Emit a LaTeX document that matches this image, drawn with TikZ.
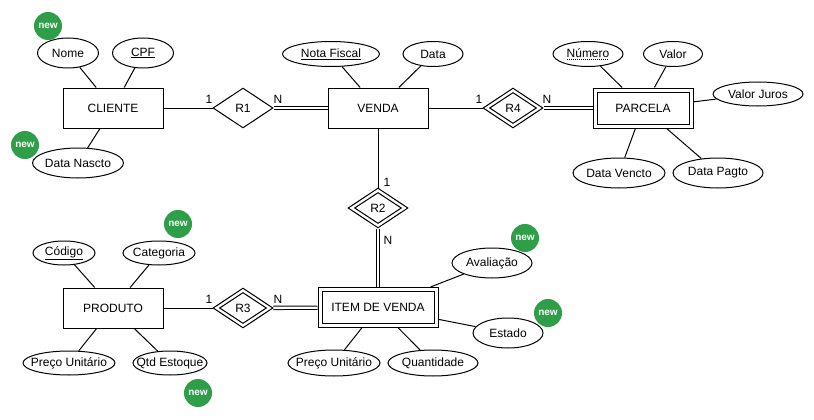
\documentclass[tikz,border=0pt]{standalone}
\usepackage{fontspec}
\setmainfont{Liberation Sans}
\usepackage{xcolor}
\usepackage{tikz}
\usetikzlibrary{shapes.geometric}

\definecolor{newgreen}{RGB}{46,158,72}
\newcommand\dotunder[1]{\setbox0=\hbox{#1}\leavevmode\rlap{\lower2.5pt\hbox to\wd0{\leaders\hbox to 2pt{\hss\vrule width 1pt height 0.7pt\hss}\hfill}}\box0}

\begin{document}
\begin{tikzpicture}[x=1pt,y=-1pt,line width=1pt,
		font=\fontsize{12}{14}\selectfont,
		ent/.style={draw,rectangle,inner sep=0pt,minimum width=100pt,minimum height=40pt},
		weak/.style={ent,path picture={\draw ([shift={(4pt,4pt)}]path picture bounding box.south west) rectangle ([shift={(-4pt,-4pt)}]path picture bounding box.north east);}},
		rel/.style={draw,diamond,inner sep=0pt,minimum width=60pt,minimum height=40pt},
		idrel/.style={rel,path picture={\draw ([yshift=-4.5pt]path picture bounding box.north) -- ([xshift=-6.5pt]path picture bounding box.east) -- ([yshift=4.5pt]path picture bounding box.south) -- ([xshift=6.5pt]path picture bounding box.west) -- cycle;}},
		attr/.style={draw,ellipse,inner sep=0pt,minimum height=25pt,
			execute at begin node={\hbox to 0pt\bgroup\hss},execute at end node={\hss\egroup}},
		badge/.style={circle,fill=newgreen,text=white,inner sep=0pt,minimum size=28pt,font=\fontsize{10}{10}\selectfont\bfseries},
		dbl/.style={double,double distance=2.3pt}]
		\useasboundingbox (0,0) rectangle (814,420);

		\node[ent] (cliente) at (113,108) {CLIENTE};
		\node[ent] (venda) at (378,108) {VENDA};
		\node[weak] (parcela) at (643,108) {PARCELA};
		\node[ent] (produto) at (113,308) {PRODUTO};
		\node[weak,minimum width=120pt] (item) at (378,307.5) {ITEM DE VENDA};

		\node[rel] (r1) at (243,108) {R1};
		\node[idrel] (r4) at (513,108) {R4};
		\node[idrel] (r2) at (378,208) {R2};
		\node[idrel] (r3) at (243,308) {R3};

		\node[attr,minimum width=61pt,minimum height=30pt] (nome) at (68,53) {Nome};
		\node[attr,minimum width=61pt,minimum height=30pt] (cpf) at (143,53) {\underline{CPF}};
		\node[attr,minimum width=91pt,minimum height=30pt] (nascto) at (78,163) {Data Nascto};
		\node[attr,minimum width=97pt] (nota) at (331,54) {\underline{Nota Fiscal}};
		\node[attr,minimum width=60pt] (data) at (433,54) {Data};
		\node[attr,minimum width=70pt] (numero) at (588,54) {\dotunder{Número}};
		\node[attr,minimum width=59pt] (valor) at (673,54) {Valor};
		\node[attr,minimum width=90pt,minimum height=24pt] (juros) at (758,94) {Valor Juros};
		\node[attr,minimum width=92pt,minimum height=30pt] (vencto) at (619,173) {Data Vencto};
		\node[attr,minimum width=90pt,minimum height=30pt] (pagto) at (718,173) {Data Pagto};
		\node[attr,minimum width=80pt,minimum height=30pt] (aval) at (492,263) {Avaliação};
		\node[attr,minimum width=70pt,minimum height=30pt] (estado) at (508,333) {Estado};
		\node[attr,minimum width=92pt,minimum height=26pt] (precoitem) at (334,363) {Preço Unitário};
		\node[attr,minimum width=90pt,minimum height=26pt] (qtde) at (433,363) {Quantidade};
		\node[attr,minimum width=62pt,minimum height=24pt] (codigo) at (64,253) {\underline{Código}};
		\node[attr,minimum width=72pt,minimum height=24pt] (categ) at (159,253) {Categoria};
		\node[attr,minimum width=92pt,minimum height=24pt] (precoprod) at (69,363) {Preço Unitário};
		\node[attr,minimum width=74pt,minimum height=24pt] (estoque) at (170,363) {Qtd Estoque};

		\node[badge] (newnome) at (48,26) {new};
		\node[badge] (newnascto) at (25,145) {new};
		\node[badge] (newcateg) at (178,224) {new};
		\node[badge] (newestoque) at (198,393) {new};
		\node[badge] (newaval) at (525,238) {new};
		\node[badge] (newestado) at (548,313) {new};

		\draw (cliente) -- (nome);
		\draw (cliente) -- (cpf);
		\draw (cliente) -- (nascto);
		\draw (venda) -- (nota);
		\draw (venda) -- (data);
		\draw (parcela) -- (numero);
		\draw (parcela) -- (valor);
		\draw (parcela) -- (juros);
		\draw (parcela) -- (vencto);
		\draw (parcela) -- (pagto);
		\draw (item) -- (aval);
		\draw (item) -- (estado);
		\draw (item) -- (precoitem);
		\draw (item) -- (qtde);
		\draw (produto) -- (codigo);
		\draw (produto) -- (categ);
		\draw (produto) -- (precoprod);
		\draw (produto) -- (estoque);

		\draw (cliente) -- (r1);
		\draw[dbl] (r1) -- (venda);
		\draw (venda) -- (r4);
		\draw[dbl] (r4) -- (parcela);
		\draw (venda) -- (r2);
		\draw[dbl] (r2) -- (item);
		\draw (produto) -- (r3);
		\draw[dbl] (r3) -- (item);

		\node (c1) at (209,99) {1};
		\node (n1) at (278,99) {N};
		\node (c4) at (479,99) {1};
		\node (n4) at (547,99) {N};
		\node (c2) at (387,182) {1};
		\node (n2) at (388,240) {N};
		\node (c3) at (209,299) {1};
		\node (n3) at (278,299) {N};
\end{tikzpicture}
\end{document}
